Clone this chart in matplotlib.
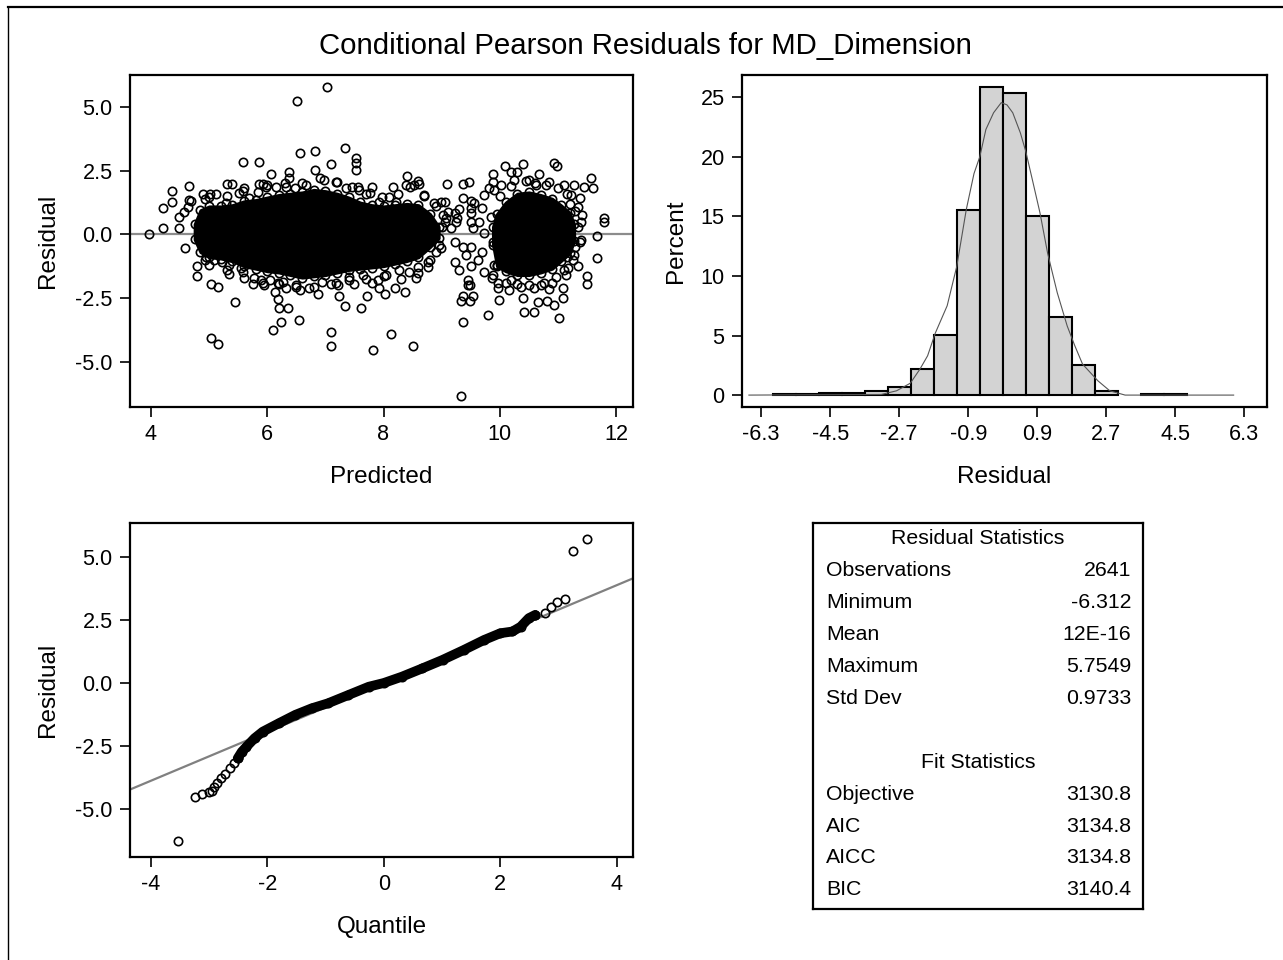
import matplotlib
matplotlib.use('Agg')
import matplotlib.pyplot as plt
from matplotlib.lines import Line2D

plt.rcParams['font.family'] = ['Liberation Sans', 'DejaVu Sans']
plt.rcParams['axes.unicode_minus'] = False

# ---------------------------------------------------------------
# data
# ---------------------------------------------------------------
title = 'Conditional Pearson Residuals for MD_Dimension'

# residual vs predicted: single visible points
pred_pts = [3.97, 4.20, 4.20, 4.37, 4.37, 4.66, 4.49, 4.49, 4.59, 4.80, 4.80, 5.03, 5.16,
            5.35, 5.45, 5.03, 5.16, 5.59, 5.86, 5.30, 5.40, 6.07, 6.38, 6.38, 6.51, 6.57,
            6.14, 6.18, 6.21, 6.23, 6.10, 6.35, 6.55, 5.85, 5.93, 5.58, 4.90, 5.02, 5.12,
            4.66, 4.93, 4.93, 5.35, 5.58, 5.76, 5.95, 6.18, 6.33, 6.57, 4.57, 4.63, 4.69,
            7.03, 6.82, 7.34, 7.52, 7.52, 7.52, 7.10, 6.83, 8.40, 9.09, 9.36, 9.47, 9.36,
            9.05, 9.10, 9.23, 9.26, 9.29, 9.23, 9.36, 9.42, 9.23, 9.30, 9.45, 9.48, 9.36,
            9.33, 9.48, 9.36, 7.10, 7.10, 7.82, 8.12, 8.50, 9.33, 7.23, 7.34, 7.61, 7.72,
            8.03, 8.20, 8.37, 6.87, 8.99, 8.76, 8.56, 9.07, 8.17, 7.56, 7.81, 7.98, 8.09,
            8.61, 8.99, 7.22, 7.50, 7.90, 8.30, 8.60, 8.80, 8.95, 9.00, 9.05, 8.90, 8.70,
            8.45, 8.25, 8.60, 9.50, 9.50, 9.50, 9.53, 9.16, 9.25,
            10.09, 10.39, 10.94, 10.98, 9.89, 10.19, 10.29, 10.68, 11.57, 11.60, 11.45,
            11.79, 11.79, 11.67, 11.67, 11.50, 11.50, 11.34, 11.42, 9.80, 10.42, 10.58,
            11.02, 9.99, 10.39, 10.81, 10.94, 11.08, 10.16, 9.50, 9.45, 9.53, 9.50, 9.50,
            9.56, 9.70, 9.64, 9.73, 9.70, 9.62, 9.73, 9.87, 9.82, 9.72, 9.89, 11.28, 11.37,
            11.40, 11.16, 11.14, 11.09, 10.84, 10.66, 9.96, 9.89,
            10.00, 10.20, 10.45, 10.60, 10.80, 11.00, 11.15, 11.20, 11.30, 11.35, 11.30,
            11.25, 11.10, 10.90, 10.70, 10.50, 10.30, 10.10, 9.95, 9.88, 9.85,
            5.00, 5.30, 5.60, 6.00, 6.30, 6.60, 6.90, 7.20, 7.45, 7.70, 5.00, 5.30, 5.60,
            5.90, 6.20, 6.50, 6.80, 7.10, 7.40, 7.70, 8.00,
            # edge of the left mass
            5.29, 5.52, 5.69, 5.84, 5.98, 6.15, 6.32, 6.47, 4.95, 5.09, 5.23, 5.55, 5.78,
            5.92, 6.04, 6.27, 6.50, 6.67, 6.98, 7.18, 7.35, 7.58, 7.76, 7.93, 8.21, 8.39,
            8.53, 8.70, 8.87, 9.02, 6.72, 6.95, 7.18, 7.41, 7.64, 7.81, 7.93, 8.04, 8.27,
            8.44, 8.59, 8.76, 8.90,
            # edge of the right mass
            9.90, 10.02, 10.25, 10.51, 10.62, 10.85, 11.11, 11.22, 11.34, 11.40, 9.90,
            9.96, 10.19, 10.36, 10.59, 10.76, 10.97, 11.17, 11.28, 11.37]
resid_pts = [0.00, 0.24, 1.02, 1.25, 1.72, 1.89, 0.69, 0.24, -0.55, -1.23, -1.64, -1.95, -2.08,
             -1.57, -2.67, -4.08, -4.29, 2.82, 2.82, 1.96, 1.96, 2.35, 2.43, 2.20, 5.24, 3.21,
             -2.25, -2.54, -2.90, -3.43, -3.75, -2.88, -3.36, 1.96, 1.96, 1.72, 1.60, 1.60, 1.60,
             1.33, 1.37, -1.00, -1.20, -1.46, -1.95, -2.00, -1.91, -2.11, -2.17, 0.87, 1.08, 1.30,
             5.79, 3.28, 3.40, 3.00, 2.80, 2.51, 2.75, 2.52, 2.30, 1.96, 1.96, 2.06, 1.41,
             1.28, 0.89, 0.82, 0.63, 1.00, -0.29, -0.49, -0.81, -1.07, -1.40, -1.79, -1.99, -2.41,
             -2.62, -2.60, -3.43, -3.82, -4.37, -4.54, -3.91, -4.37, -6.33, -2.41, -2.80, -2.90, -2.41,
             -2.35, -2.10, -2.25, -2.35, -0.55, -1.27, -1.73, 0.63, 1.87, 1.85, 1.87, 1.48, 1.48,
             1.96, 1.28, -2.00, -1.95, -1.80, -1.75, -1.50, -1.00, -0.40, 0.30, 0.50, 1.10, 1.50,
             1.85, 1.60, 2.10, 1.30, 0.82, 0.50, 0.24, 0.24, 0.50,
             2.69, 2.75, 2.78, 2.69, 2.35, 2.43, 2.43, 2.35, 2.22, 1.80, 1.87,
             0.65, 0.50, -0.08, -0.94, -1.62, -1.96, -1.24, 0.76, -3.16, -3.03, -3.05,
             -3.27, -2.58, -2.49, -2.60, -2.77, -2.49, -2.18, -1.23, -1.99, -2.43, -0.50, 1.02,
             1.22, 1.02, 0.50, 0.04, -0.68, -1.01, -1.47, -1.73, 1.80, 1.54, 2.06, 1.93, 1.41,
             -0.22, -0.88, -1.60, -2.12, -2.16, -2.64, -2.12, -1.60,
             1.50, 1.90, 2.10, 2.00, 1.95, 1.80, 1.60, 1.20, 0.90, 0.30, -0.50,
             -1.00, -1.40, -1.90, -2.00, -2.00, -1.95, -1.90, -1.20, -0.30, 0.70,
             1.45, 1.50, 1.80, 1.95, 2.00, 2.00, 2.20, 2.05, 1.85, 1.60, -1.20, -1.40, -1.70,
             -1.80, -1.95, -2.05, -2.05, -1.95, -1.80, -1.75, -1.65,
             1.22, 1.61, 1.41, 1.67, 1.87, 1.87, 1.87, 1.80, -0.88, -1.00, -1.07, -1.33, -1.73,
             -1.92, -1.79, -1.86, -1.99, 1.93, 2.13, 2.07, 1.80, 1.74, 1.61, 1.28, 1.28, 1.93,
             1.93, 1.54, 1.22, 0.76, -2.12, -1.86, -1.92, -1.66, -1.59, -1.92, -2.12, -1.59, -1.40,
             -1.46, -1.27, -1.07, -0.68,
             1.74, 1.93, 2.13, 2.13, 1.93, 2.07, 1.93, 1.54, 1.08, 0.50, -1.20,
             -1.92, -1.79, -2.05, -2.12, -1.92, -1.66, -1.33, -0.81, -0.29]

# residual vs predicted: extent of the solid black masses (per column)
massA_pred = [4.75, 4.85, 5.0, 5.2, 5.4, 5.6, 5.8, 6.0, 6.2, 6.4, 6.6, 6.8, 7.0, 7.2,
              7.4, 7.6, 7.8, 8.0, 8.2, 8.4, 8.6, 8.8, 8.95]
massA_lo = [-0.2, -0.7, -0.9, -0.95, -1.05, -1.25, -1.35, -1.45, -1.5, -1.6, -1.7, -1.65,
            -1.6, -1.5, -1.4, -1.35, -1.3, -1.25, -1.15, -1.05, -0.9, -0.5, -0.15]
massA_hi = [0.4, 0.95, 1.1, 1.1, 1.15, 1.3, 1.35, 1.45, 1.55, 1.6, 1.65, 1.75, 1.7, 1.6,
            1.45, 1.25, 1.15, 1.1, 1.15, 1.2, 1.15, 0.8, 0.3]
massB_pred = [9.88, 9.95, 10.1, 10.3, 10.5, 10.7, 10.9, 11.05, 11.2, 11.28]
massB_lo = [-0.4, -1.25, -1.45, -1.6, -1.6, -1.5, -1.35, -1.05, -0.75, -0.25]
massB_hi = [0.3, 0.8, 1.25, 1.6, 1.65, 1.55, 1.4, 1.15, 0.85, 0.4]

# histogram (bin midpoints, percent)
hist_mid = [-5.7, -5.1, -4.5, -3.9, -3.3, -2.7, -2.1, -1.5, -0.9, -0.3, 0.3, 0.9, 1.5,
            2.1, 2.7, 3.9, 4.5]
hist_pct = [0.05, 0.05, 0.19, 0.19, 0.34, 0.67, 2.18, 5.02, 15.54, 25.9, 25.4, 15.07,
            6.53, 2.54, 0.34, 0.05, 0.05]
bin_width = 0.6
hist_ticks = [-6.3, -4.5, -2.7, -0.9, 0.9, 2.7, 4.5, 6.3]

# kernel density curve
dens_x = [-6.62, -3.17, -2.77, -2.41, -2.16, -1.96, -1.76, -1.45, -1.2, -0.95, -0.75, -0.6,
          -0.44, -0.24, -0.04, 0.11, 0.26, 0.46, 0.6, 0.77, 0.97, 1.17, 1.42, 1.68, 1.88,
          2.08, 2.28, 2.48, 2.79, 3.19, 6.02]
dens_y = [0.0, 0.05, 0.36, 1.0, 2.18, 3.3, 5.2, 7.5, 10.8, 15.6, 18.6, 20.0, 22.3, 23.7,
          24.55, 24.36, 23.7, 22.0, 20.45, 18.1, 15.3, 11.9, 8.6, 5.8, 4.13, 2.6, 1.9, 1.2,
          0.36, 0.0, 0.0]

# Q-Q plot (normal quantile, ordered residual)
qq_tail_q = [-3.53, -3.24, -3.12, -3.01, -2.96, -2.91, -2.86, -2.79, -2.72, -2.65, -2.58,
             -2.51, 2.60, 2.77, 2.88, 2.97, 3.11, 3.25, 3.49]
qq_tail_r = [-6.29, -4.53, -4.42, -4.35, -4.29, -4.16, -3.98, -3.80, -3.63, -3.40, -3.20,
             -3.00, 2.71, 2.80, 3.04, 3.24, 3.33, 5.24, 5.73]
qq_core_q = [-2.51, -2.44, -2.36, -2.22, -2.08, -1.8, -1.52, -1.24, -0.96, -0.61, -0.26,
             0.0, 0.31, 0.66, 1.01, 1.37, 1.72, 2.0, 2.21, 2.35, 2.49, 2.6]
qq_core_r = [-3.0, -2.74, -2.54, -2.2, -1.94, -1.6, -1.27, -1.01, -0.81, -0.48, -0.15,
             0.0, 0.25, 0.58, 0.92, 1.31, 1.71, 1.98, 2.05, 2.24, 2.58, 2.71]
resid_mean = 0.0
resid_std = 0.9733

# statistics panel
res_labels = ['Observations', 'Minimum', 'Mean', 'Maximum', 'Std Dev']
res_values = ['2641', '-6.312', '12E-16', '5.7549', '0.9733']
fit_labels = ['Objective', 'AIC', 'AICC', 'BIC']
fit_values = ['3130.8', '3134.8', '3134.8', '3140.4']

# ---------------------------------------------------------------
W, H = 1283, 960
fig = plt.figure(figsize=(W / 100, H / 100), dpi=100)


def px_axes(x0, y0, x1, y1):
    # axes from pixel box (top-left origin)
    return fig.add_axes([x0 / W, 1 - y1 / H, (x1 - x0) / W, (y1 - y0) / H])


def style(ax):
    for s in ax.spines.values():
        s.set_linewidth(1.6)
    ax.tick_params(direction='out', length=7.5, width=1.2, labelsize=15.6, pad=5)


def labels(ax, xl, yl, xpos, ypos):
    ax.set_xlabel(xl, fontsize=17.5)
    ax.set_ylabel(yl, fontsize=17.5)
    ax.xaxis.set_label_coords(0.5, xpos)
    ax.yaxis.set_label_coords(ypos, 0.5)
    ax.xaxis.label.set_va('center')
    ax.yaxis.label.set_va('center')


mk = dict(marker='o', ms=6, mfc='none', mec='black', mew=1.2, ls='none')

# ---- residual vs predicted
ax1 = px_axes(130, 75, 633, 407)
style(ax1)
ax1.axhline(0, color='#8c8c8c', lw=1.6, zorder=1)
ax1.fill_between(massA_pred, massA_lo, massA_hi, color='black', lw=2, zorder=2)
ax1.fill_between(massB_pred, massB_lo, massB_hi, color='black', lw=2, zorder=2)
for xs, ys in [(massA_pred, massA_lo), (massA_pred, massA_hi),
               (massB_pred, massB_lo), (massB_pred, massB_hi)]:
    ax1.plot(xs, ys, **mk, zorder=3)
ax1.plot(pred_pts, resid_pts, **mk, zorder=3)
ax1.set_xlim(3.64, 12.29)
ax1.set_ylim(-6.77, 6.25)
ax1.set_xticks([4, 6, 8, 10, 12])
ax1.set_yticks([-5, -2.5, 0, 2.5, 5])
ax1.set_yticklabels(['-5.0', '-2.5', '0.0', '2.5', '5.0'])
labels(ax1, 'Predicted', 'Residual', -0.211, -0.163)

# ---- histogram
ax2 = px_axes(742, 75, 1267, 407)
style(ax2)
ax2.bar(hist_mid, hist_pct, width=bin_width, color='#d3d3d3', edgecolor='black', lw=1.5, zorder=2)
ax2.plot(dens_x, dens_y, color='#555555', lw=0.8, zorder=3)
ax2.set_xlim(-6.8, 6.89)
ax2.set_ylim(-1.0, 26.87)
ax2.set_xticks(hist_ticks)
ax2.set_xticklabels([f'{t:.1f}' for t in hist_ticks])
ax2.set_yticks([0, 5, 10, 15, 20, 25])
labels(ax2, 'Residual', 'Percent', -0.211, -0.126)

# ---- Q-Q plot
ax3 = px_axes(130, 523, 633, 857)
style(ax3)
ax3.axline((0, resid_mean), slope=resid_std, color='#808080', lw=1.6, zorder=1)
ax3.plot(qq_core_q, qq_core_r, color='black', lw=7, solid_capstyle='round', zorder=2)
ax3.plot(qq_core_q, qq_core_r, **mk, zorder=3)
ax3.plot(qq_tail_q, qq_tail_r, **mk, zorder=3)
ax3.set_xlim(-4.36, 4.28)
ax3.set_ylim(-6.93, 6.37)
ax3.set_xticks([-4, -2, 0, 2, 4])
ax3.set_yticks([-5, -2.5, 0, 2.5, 5])
ax3.set_yticklabels(['-5.0', '-2.5', '0.0', '2.5', '5.0'])
labels(ax3, 'Quantile', 'Residual', -0.21, -0.163)

# ---- statistics panel (pixel coordinates inside the box)
ax4 = px_axes(813, 523, 1143, 909)
ax4.set_xlim(813, 1143)
ax4.set_ylim(909, 523)
ax4.set_xticks([])
ax4.set_yticks([])
for s in ax4.spines.values():
    s.set_linewidth(1.6)
fs = 15.3
ax4.text(978, 538, 'Residual Statistics', ha='center', va='center', fontsize=fs)
for i, (lab, val) in enumerate(zip(res_labels, res_values)):
    y = 571 + i * 31.8
    ax4.text(826, y, lab, ha='left', va='center', fontsize=fs)
    ax4.text(1131, y, val, ha='right', va='center', fontsize=fs)
ax4.text(978, 762, 'Fit Statistics', ha='center', va='center', fontsize=fs)
for i, (lab, val) in enumerate(zip(fit_labels, fit_values)):
    y = 795 + i * 31.4
    ax4.text(826, y, lab, ha='left', va='center', fontsize=fs)
    ax4.text(1131, y, val, ha='right', va='center', fontsize=fs)

# title and outer frame
fig.text(645 / W, 1 - 46 / H, title, ha='center', va='center', fontsize=21.2)
fig.add_artist(Line2D([8 / W, 8 / W], [0, 1 - 6.5 / H], transform=fig.transFigure,
                      color='black', lw=1.0))
fig.add_artist(Line2D([8 / W, 1], [1 - 6.5 / H, 1 - 6.5 / H], transform=fig.transFigure,
                      color='black', lw=1.6))

fig.savefig('out.png', dpi=100, facecolor='white')
